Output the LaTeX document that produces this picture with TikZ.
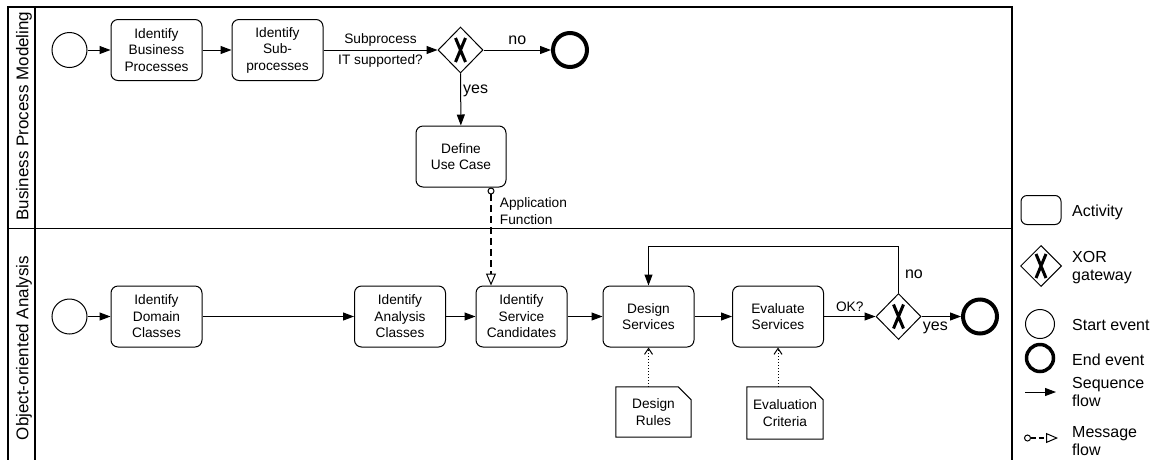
\documentclass[tikz,border=0pt]{standalone}
\usepackage{fontspec}
\setmainfont{Liberation Sans}
\usetikzlibrary{arrows.meta,shapes.geometric}

\begin{document}
\begin{tikzpicture}[x=1pt,y=-1pt,
  normtxt/.style={font=\fontsize{13.7}{16.5}\selectfont},
  bigtxt/.style={font=\fontsize{16}{18}\selectfont},
  act/.style={normtxt,draw,line width=1pt,rounded corners=7pt,align=center,minimum width=91pt,minimum height=61pt,inner sep=2pt},
  gw/.style={draw,diamond,line width=1pt,minimum width=45pt,minimum height=46pt,inner sep=0pt,
    path picture={\draw[line width=3pt]
      ([shift={(-5pt,12pt)}]path picture bounding box.center) -- ([shift={(5pt,-12pt)}]path picture bounding box.center)
      ([shift={(5pt,12pt)}]path picture bounding box.center) -- ([shift={(-5pt,-12pt)}]path picture bounding box.center);}},
  startev/.style={draw,circle,line width=1pt,minimum size=35pt,inner sep=0pt},
  endev/.style={draw,circle,line width=4pt,minimum size=34pt,inner sep=0pt},
  docu/.style={normtxt,align=center,minimum width=75pt,minimum height=50pt,inner sep=1pt},
  seq/.style={line width=1pt,-{Triangle[length=11pt,width=8pt]}},
  msg/.style={line width=1.8pt,dash pattern=on 7pt off 4pt,
    {Circle[open,length=7pt,width=7pt,line width=1pt]}-{Triangle[open,length=12pt,width=10pt,line width=1pt]}},
  assoc/.style={line width=1pt,dotted,-{Straight Barb[length=6pt,width=8pt]}},
  lbl/.style={normtxt,inner sep=3pt},
  yn/.style={bigtxt,inner sep=5pt},
  legtxt/.style={bigtxt,anchor=west,align=left,inner sep=0pt}]

  \useasboundingbox (0,0) rectangle (1156,459);

  % pool and lanes
  \draw[line width=1.3pt] (8,460) -- (8,7) -- (1012,7) -- (1012,460);
  \draw[line width=1.8pt] (35,7) -- (35,460);
  \draw[line width=1pt] (8,228.5) -- (1012,228.5);
  \node[rotate=90,font=\fontsize{17}{20}\selectfont] (lanebpm) at (24,116) {Business Process Modeling};
  \node[rotate=90,font=\fontsize{17}{20}\selectfont] (laneooa) at (24,348) {Object-oriented Analysis};

  % business process modeling
  \node[startev] (s1) at (69.5,50) {};
  \node[act] (bp) at (156.5,50) {Identify\\Business\\Processes};
  \node[act] (sp) at (277.5,50) {Identify\\Sub-\\processes};
  \node[gw] (g1) at (460.5,50) {};
  \node[endev] (e1) at (570,50) {};
  \node[act,minimum width=90pt] (uc) at (461,156.5) {Define\\Use Case};
  \draw[seq] (s1) -- (bp);
  \draw[seq] (bp) -- (sp);
  \draw[seq] (sp) -- node[lbl,above]{Subprocess} node[lbl,below,inner sep=4pt]{IT supported?} (g1);
  \draw[seq] (g1) -- node[yn,above]{no} (e1);
  \draw[seq] (g1) -- node[yn,right,pos=0.34,inner sep=2pt]{yes} (uc);

  % object-oriented analysis
  \node[startev] (s2) at (69.5,316.5) {};
  \node[act] (dc) at (156.5,316.5) {Identify\\Domain\\Classes};
  \node[act] (ac) at (400,316.5) {Identify\\Analysis\\Classes};
  \node[act] (sc) at (521.5,316.5) {Identify\\Service\\Candidates};
  \node[act] (ds) at (648.5,316.5) {Design\\Services};
  \node[act] (es) at (778,316.5) {Evaluate\\Services};
  \node[gw] (g2) at (898.5,316.5) {};
  \node[endev] (e2) at (980,316.5) {};
  \node[docu] (dr) at (653.5,412) {Design\\Rules};
  \node[docu,minimum width=76pt,minimum height=52pt] (ec) at (785,413) {Evaluation\\Criteria};
  \foreach \d in {dr,ec}
    \draw[line width=1pt] (\d.north west) -- ([xshift=-13pt]\d.north east) -- ([yshift=-13pt]\d.north east)
      -- (\d.south east) -- (\d.south west) -- cycle;
  \draw[seq] (s2) -- (dc);
  \draw[seq] (dc) -- (ac);
  \draw[seq] (ac) -- (sc);
  \draw[seq] (sc) -- (ds);
  \draw[seq] (ds) -- (es);
  \draw[seq] (es) -- node[lbl,above,inner sep=4pt]{OK?} (g2);
  \draw[seq] (g2) -- node[yn,below,pos=0.35]{yes} (e2);
  \draw[seq] (g2.north) -- node[yn,right,pos=0.4,inner sep=6pt]{no} ++(0,-46.5) -| (ds.north);
  \draw[assoc] (dr.north -| ds.south) -- (ds.south);
  \draw[assoc] (ec.north -| es.south) -- (es.south);

  % message flow between lanes
  \coordinate (mf) at ([xshift=30pt]uc.south);
  \draw[msg] (mf) -- node[normtxt,right=6pt,pos=0.24,align=left,inner sep=2pt]{Application\\Function} (mf |- sc.north);

  % legend
  \node[act,minimum width=40pt,minimum height=29pt,rounded corners=6pt] (lact) at (1041,210) {};
  \node[legtxt] (lacttxt) at (1072,212) {Activity};
  \node[gw,minimum width=41pt,minimum height=41pt] (lgw) at (1041,266) {};
  \node[legtxt] (lgwtxt) at (1072,268) {XOR\\gateway};
  \node[startev,minimum size=29pt] (lstart) at (1040,324) {};
  \node[legtxt] (lstarttxt) at (1072,325) {Start event};
  \node[endev,minimum size=27pt,line width=3.5pt] (lend) at (1040,358) {};
  \node[legtxt] (lendtxt) at (1072,360) {End event};
  \coordinate (lseqa) at (1025,392);
  \coordinate (lseqb) at (1056,392);
  \draw[seq] (lseqa) -- (lseqb);
  \node[legtxt] (lseqtxt) at (1072,392) {Sequence\\flow};
  \coordinate (lmsga) at (1024,438);
  \coordinate (lmsgb) at (1058,438);
  \draw[msg,line width=1.2pt,dash pattern=on 5pt off 3pt] (lmsga) -- (lmsgb);
  \node[legtxt] (lmsgtxt) at (1072,441) {Message\\flow};
\end{tikzpicture}
\end{document}
